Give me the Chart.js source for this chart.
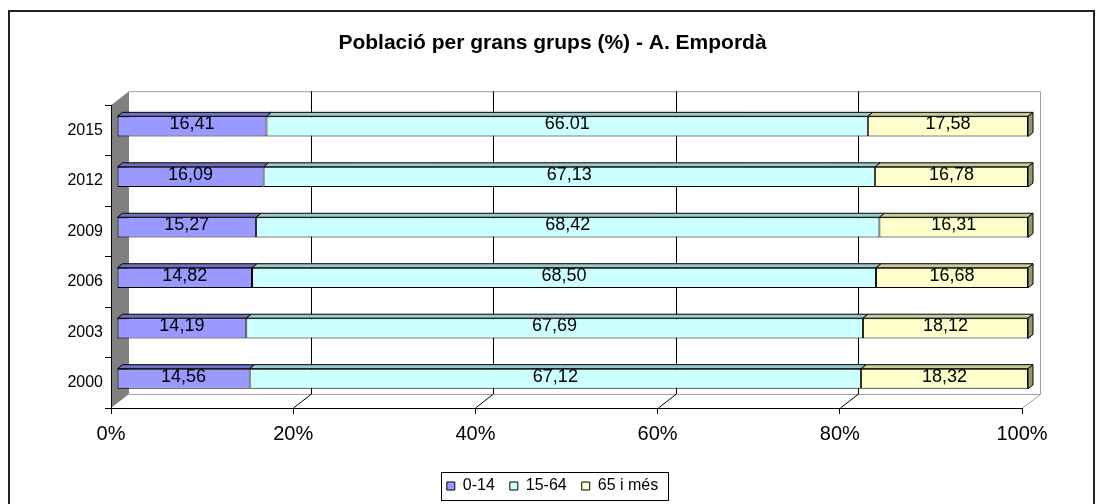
<!DOCTYPE html>
<html>
<head>
<meta charset="utf-8">
<script src="https://cdn.jsdelivr.net/npm/chart.js@4/dist/chart.umd.min.js"></script>
<style>
  body { margin: 0; background: #fff; }
</style>
</head>
<body>
<canvas id="chart" width="1105" height="504"></canvas>
<script>
const years = ['2015', '2012', '2009', '2006', '2003', '2000'];
const groups = ['0-14', '15-64', '65 i més'];
const young = [16.41, 16.09, 15.27, 14.82, 14.19, 14.56];
const adult = [66.01, 67.13, 68.42, 68.50, 67.69, 67.12];
const old = [17.58, 16.78, 16.31, 16.68, 18.12, 18.32];
// the 2015 middle label is written with a dot in the original
const labelOverrides = { '1-0': '66.01' };

const frontColors = ['#9999ff', '#ccffff', '#ffffcc'];
const topColors = ['#7070c8', '#99cccc', '#cccc99'];
const sideColor = '#999966';

// depth of the 3d box and of the bars
const DX = 18, DY = -14;
const BX = 6, BY = -4;
const TX = 5, TY = -4;

Chart.defaults.font.family = '"Liberation Sans", Arial, sans-serif';
Chart.defaults.color = '#000';

const fmt = (ds, i, v) => labelOverrides[ds + '-' + i] || v.toFixed(2).replace('.', ',');

const box3d = {
    id: 'box3d',
    beforeDraw(chart) {
        const ctx = chart.ctx;
        const a = chart.chartArea;
        const xs = chart.scales.x;
        ctx.save();
        ctx.fillStyle = '#fff';
        ctx.fillRect(0, 0, chart.width, chart.height);
        // outer frame
        ctx.strokeStyle = '#222';
        ctx.lineWidth = 2;
        ctx.strokeRect(9, 11, 1085, 520);

        // left wall
        ctx.fillStyle = '#808080';
        ctx.beginPath();
        ctx.moveTo(a.left, a.top);
        ctx.lineTo(a.left + DX, a.top + DY);
        ctx.lineTo(a.left + DX, a.bottom + DY);
        ctx.lineTo(a.left, a.bottom);
        ctx.closePath();
        ctx.fill();

        // back wall edges and floor
        ctx.lineWidth = 1;
        ctx.strokeStyle = '#a0a0a0';
        ctx.beginPath();
        ctx.moveTo(a.left + DX, a.top + DY + 0.5);
        ctx.lineTo(a.right + DX + 0.5, a.top + DY + 0.5);
        ctx.lineTo(a.right + DX + 0.5, a.bottom + DY + 0.5);
        ctx.lineTo(a.left + DX, a.bottom + DY + 0.5);
        ctx.moveTo(a.right + DX + 0.5, a.bottom + DY + 0.5);
        ctx.lineTo(a.right + 0.5, a.bottom);
        ctx.stroke();

        // grid lines on the back wall
        ctx.strokeStyle = '#000';
        xs.ticks.forEach(t => {
            if (t.value <= 0 || t.value >= 100) return;
            const px = Math.round(xs.getPixelForValue(t.value)) + 0.5;
            ctx.beginPath();
            ctx.moveTo(px + DX, a.top + DY);
            ctx.lineTo(px + DX, a.bottom + DY);
            ctx.lineTo(px, a.bottom);
            ctx.stroke();
        });
        ctx.restore();
    },
    beforeDatasetsDraw(chart) {
        chart.ctx.save();
        chart.ctx.translate(BX, BY);
    },
    afterDatasetsDraw(chart) {
        const ctx = chart.ctx;
        const n = chart.data.datasets.length;
        ctx.lineWidth = 1;
        ctx.strokeStyle = '#000';
        chart.data.datasets.forEach((ds, d) => {
            const meta = chart.getDatasetMeta(d);
            meta.data.forEach((bar, i) => {
                const l = Math.min(bar.x, bar.base), r = Math.max(bar.x, bar.base);
                const t = bar.y - bar.height / 2, b = bar.y + bar.height / 2;
                ctx.fillStyle = topColors[d];
                ctx.beginPath();
                ctx.moveTo(l, t);
                ctx.lineTo(l + TX, t + TY);
                ctx.lineTo(r + TX, t + TY);
                ctx.lineTo(r, t);
                ctx.closePath();
                ctx.fill();
                ctx.stroke();
                if (d === n - 1) {
                    ctx.fillStyle = sideColor;
                    ctx.beginPath();
                    ctx.moveTo(r, t);
                    ctx.lineTo(r + TX, t + TY);
                    ctx.lineTo(r + TX, b + TY);
                    ctx.lineTo(r, b);
                    ctx.closePath();
                    ctx.fill();
                    ctx.stroke();
                }
            });
        });
        // value labels
        ctx.fillStyle = '#000';
        ctx.font = '18px "Liberation Sans", Arial, sans-serif';
        ctx.textAlign = 'center';
        ctx.textBaseline = 'middle';
        chart.data.datasets.forEach((ds, d) => {
            chart.getDatasetMeta(d).data.forEach((bar, i) => {
                ctx.fillText(fmt(d, i, ds.data[i]), (bar.x + bar.base) / 2, bar.y - 2);
            });
        });
        ctx.restore();
    },
    afterDraw(chart) {
        const lg = chart.legend;
        if (!lg || !lg.legendHitBoxes.length) return;
        const hb = lg.legendHitBoxes;
        const l = Math.min(...hb.map(h => h.left)) - 6;
        const r = Math.max(...hb.map(h => h.left + h.width)) + 10;
        const cy = hb[0].top + hb[0].height / 2;
        const ctx = chart.ctx;
        ctx.save();
        ctx.strokeStyle = '#000';
        ctx.lineWidth = 1;
        ctx.strokeRect(Math.round(l) + 0.5, Math.round(cy - 14) + 0.5, Math.round(r - l), 28);
        ctx.restore();
    }
};

new Chart(document.getElementById('chart'), {
    type: 'bar',
    data: {
        labels: years,
        datasets: [young, adult, old].map((vals, k) => ({
            label: groups[k],
            data: vals,
            backgroundColor: frontColors[k],
            borderColor: '#000',
            borderWidth: 1,
            borderSkipped: false,
            barPercentage: 0.4,
            categoryPercentage: 1
        }))
    },
    options: {
        indexAxis: 'y',
        responsive: false,
        animation: false,
        devicePixelRatio: 1,
        layout: { padding: 0 },
        scales: {
            x: {
                stacked: true,
                min: 0,
                max: 100,
                ticks: { stepSize: 20, callback: v => v + '%', font: { size: 20 }, padding: 8 },
                grid: { drawOnChartArea: false, color: '#000', tickLength: 6 },
                border: { color: '#000' },
                afterFit: s => { s.height = 55; }
            },
            y: {
                stacked: true,
                ticks: { font: { size: 16 }, padding: 2 },
                grid: { drawOnChartArea: false, color: '#000', tickLength: 6 },
                border: { color: '#000' },
                afterFit: s => { s.width = 111; }
            },
            // empty spacer on the right so title and legend centre on the whole frame
            yRight: {
                type: 'category',
                position: 'right',
                ticks: { display: false },
                grid: { display: false },
                border: { display: false },
                afterFit: s => { s.width = 83; }
            }
        },
        plugins: {
            title: {
                display: true,
                text: 'Població per grans grups (%) - A. Empordà',
                font: { size: 21, weight: 'bold' },
                color: '#000',
                padding: { top: 31, bottom: 49 }
            },
            legend: {
                position: 'bottom',
                labels: { boxWidth: 8, boxHeight: 8, font: { size: 16 }, padding: 15, color: '#000' }
            },
            tooltip: { enabled: false }
        }
    },
    plugins: [box3d]
});
</script>
</body>
</html>
